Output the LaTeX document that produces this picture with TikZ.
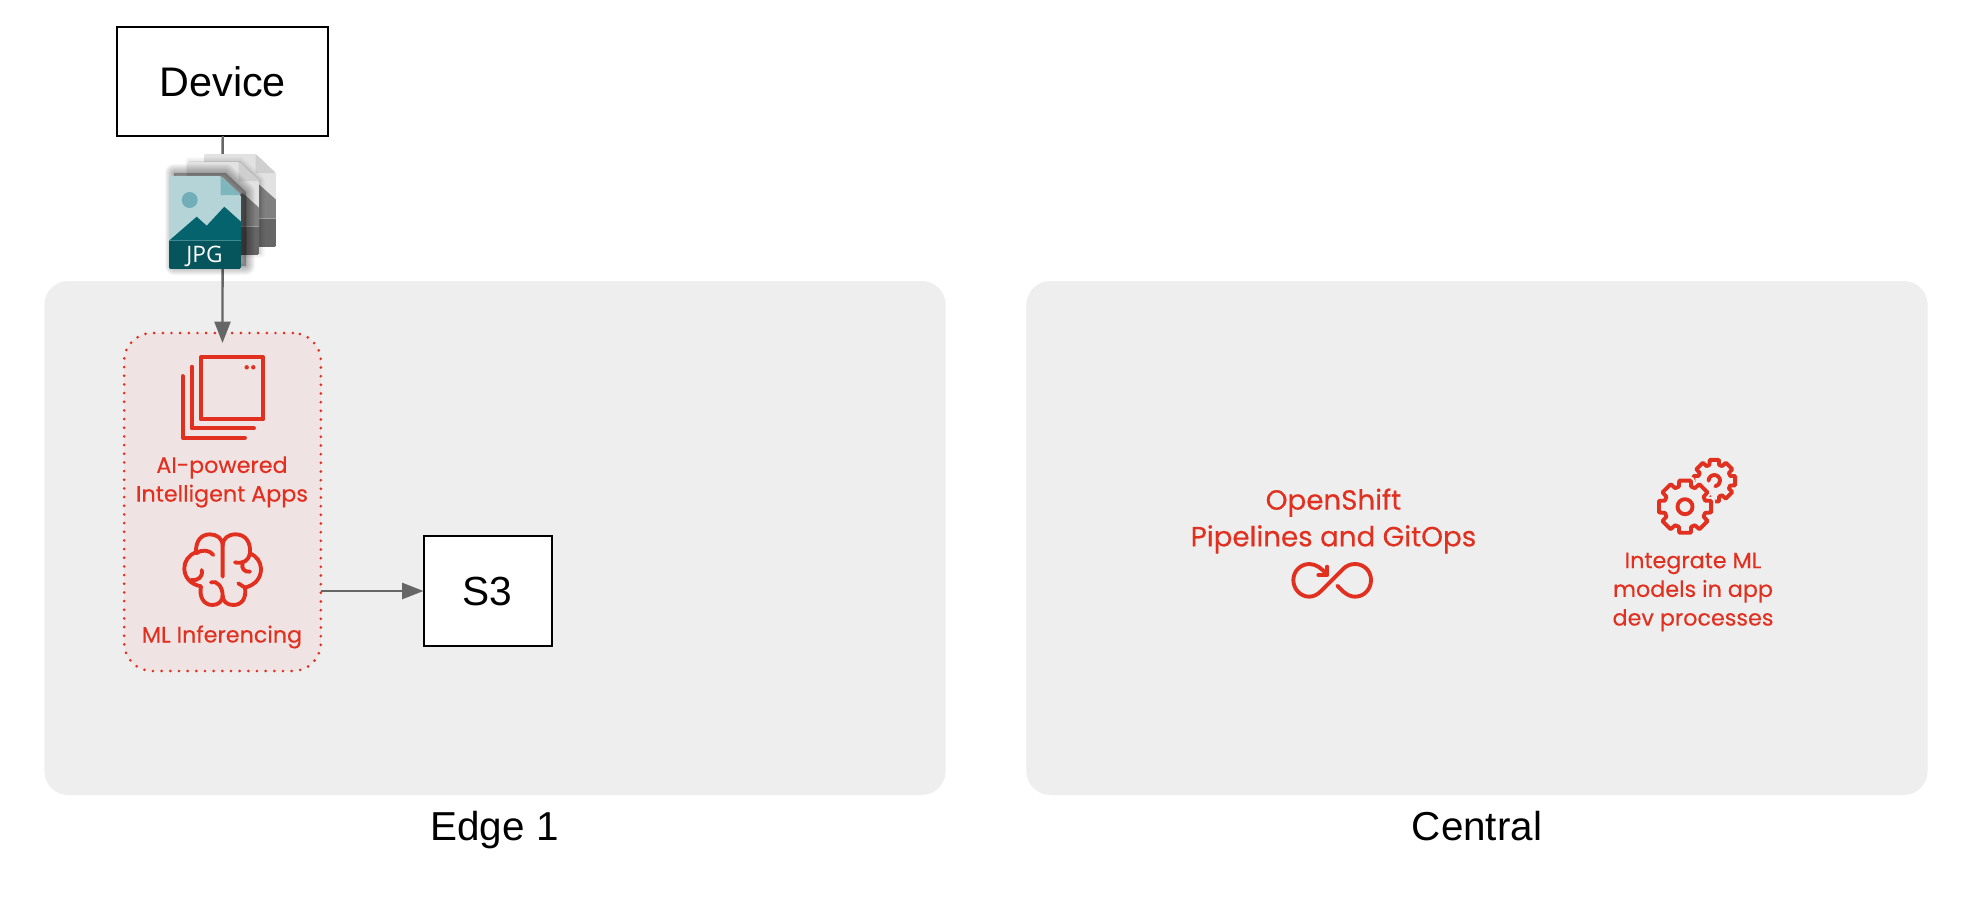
\documentclass[tikz,border=0pt]{standalone}
\usepackage{fontspec}
\setmainfont{Liberation Sans}
\newfontfamily\redfont[FakeBold=0.3]{Poppins}
\newfontfamily\jpgfont{Open Sans}
\usetikzlibrary{arrows.meta}
\definecolor{rhred}{HTML}{E1301F}
\definecolor{panelgray}{HTML}{EEEEEE}
\definecolor{mlpink}{HTML}{F0E3E3}
\definecolor{linegray}{HTML}{666666}
\definecolor{jpgpaper}{HTML}{B5D4D8}
\definecolor{jpgfold}{HTML}{7EB6BD}
\definecolor{jpgsun}{HTML}{72AEB8}
\definecolor{jpghill}{HTML}{05636D}
\definecolor{jpgband}{HTML}{06545C}
\definecolor{greypaper}{HTML}{E2E2E2}
\definecolor{greyfold}{HTML}{CFCFCF}
\definecolor{greyhill}{HTML}{808080}
\definecolor{greyband}{HTML}{666666}
\tikzset{
  x=.75pt,y=-.75pt,
  panelbox/.style={fill=panelgray,draw=none,rounded corners=18pt,minimum width=676pt,minimum height=385.5pt,inner sep=0pt,outer sep=0pt},
  whitebox/.style={draw=black,fill=white,line width=1.5pt,inner sep=0pt,outer sep=0pt,font=\fontsize{30.5}{36}\selectfont},
  mlbox/.style={fill=mlpink,draw=rhred,line width=2.2pt,dash pattern=on 0pt off 6.5pt,line cap=round,rounded corners=21pt,minimum width=147.5pt,minimum height=253.5pt,inner sep=0pt,outer sep=0pt},
  panelcap/.style={font=\fontsize{30.3}{36}\selectfont,inner sep=0pt},
  redsmall/.style={text=rhred,align=center,inner sep=0pt,font=\redfont\fontsize{16.7}{21.5}\selectfont},
  redbig/.style={text=rhred,align=center,inner sep=0pt,font=\redfont\fontsize{20.8}{27.5}\selectfont},
  conn/.style={draw=linegray,line width=1.8pt,-{Triangle[length=16pt,width=12pt,fill=linegray]}},
  icon/.style={draw=rhred,line width=2.9pt,line cap=round,line join=round},
}
\newcommand{\jpgsheet}[7]{%
  \begin{scope}[shift={(#1,#2)}]
    \clip[rounded corners=1pt] (169,176) -- (220.7,176) -- (241,195) -- (241,269) -- (169,269) -- cycle;
    \fill[#3] (169,176) rectangle (241,269);
    \fill[#4] (220.7,176) -- (220.7,195) -- (241,195) -- cycle;
    \fill[#5] (189.7,200) circle[radius=8];
    \fill[#6] (169,240.7) -- (196.7,216.7) -- (206.7,225.7) -- (224.3,206.7) -- (241,221.7) -- (241,240.7) -- cycle;
    \fill[#7] (169,240.7) rectangle (241,269);
  \end{scope}}
\newcommand{\sheetshadow}[4]{%
  \foreach \w in {2,4,...,#3}{
    \fill[black,opacity=#4,draw=black,line width=\w*.75pt,line join=round]
      (169+#1,176+#2) -- (220.7+#1,176+#2) -- (241+#1,195+#2) -- (241+#1,269+#2) -- (169+#1,269+#2) -- cycle;
  }}
\newcommand{\gearpath}[2]{(-17:#2) \foreach \a in {0,45,...,315}{ -- (\a-17:#2) -- (\a-12.5:#1) -- (\a+12.5:#1) -- (\a+17:#2) } -- cycle}
\begin{document}
\begin{tikzpicture}
\useasboundingbox (0,0) rectangle (1976,910);
\fill[white] (0,0) rectangle (1976,910);

% panels
\node[panelbox] (edge) at (495,538) {};
\node[panelbox] (central) at (1477,538) {};
\node[panelcap,anchor=north] (edgelabel) at (494.5,811) {Edge 1};
\node[panelcap,anchor=north] (centrallabel) at (1477,811) {Central};

% boxes
\node[mlbox] (ml) at (222.5,502) {};
\node[whitebox,font=\fontsize{31}{36}\selectfont,minimum width=158pt,minimum height=82pt] (device) at (222.7,81.5) {Device};
\node[whitebox,minimum width=96pt,minimum height=82.5pt] (s3) at (487.5,591) {S3};

% connectors
\draw[conn,shorten >=-7.5pt] (device.south) -- (ml.north);
\draw[conn] (ml.east|-s3) -- (s3.west);

% JPG icon
\jpgsheet{35}{-22}{greypaper}{greyfold}{greypaper}{greyhill}{greyband}
\sheetshadow{20}{-15}{8}{.02}
\jpgsheet{18}{-14}{greypaper}{greyfold}{greypaper}{greyhill}{greyband}
\sheetshadow{5}{-3}{18}{.035}
\jpgsheet{0}{0}{jpgpaper}{jpgfold}{jpgsun}{jpghill}{jpgband}
\node[text=white,font=\jpgfont\fontsize{17}{20}\selectfont,inner sep=0pt] (jpg) at (204.5,256) {JPG};

% apps icon
\draw[icon] (200.7,357.3) rectangle (263.3,419.3);
\draw[icon] (191.7,366.7) -- (191.7,428.3) -- (254,428.3);
\draw[icon] (182.7,376) -- (182.7,437.7) -- (245,437.7);
\fill[rhred] (246.7,367.3) circle[radius=2.2];
\fill[rhred] (253.3,367.3) circle[radius=2.2];
\node[redsmall] (apps) at (222,482) {AI-powered\\Intelligent Apps};

% brain icon
\begin{scope}[shift={(175,525)},x=.25pt,y=-.25pt]
  \draw[icon] (143,155) -- (143,62) .. controls (143,40) and (125,28) .. (105,28) .. controls (80,28) and (62,45) .. (63,82)
     .. controls (40,90) and (28,110) .. (28,130) .. controls (28,155) and (45,178) .. (78,184)
     .. controls (72,215) and (85,240) .. (113,240) .. controls (130,240) and (143,228) .. (143,212);
  \draw[icon] (108,172) .. controls (125,165) and (143,185) .. (143,212) .. controls (143,228) and (155,240) .. (175,240)
     .. controls (200,240) and (215,220) .. (210,188) .. controls (240,180) and (258,160) .. (258,132)
     .. controls (258,110) and (243,92) .. (225,85) .. controls (228,50) and (210,28) .. (182,28)
     .. controls (160,28) and (143,40) .. (143,62);
  \draw[icon] (63,85) .. controls (80,72) and (105,75) .. (115,90);
  \draw[icon] (80,135) .. controls (85,155) and (70,168) .. (48,165);
  \draw[icon] (190,175) -- (210,188);
  \draw[icon] (180,112) .. controls (205,118) and (222,105) .. (225,85);
  \draw[icon] (203,115) .. controls (198,130) and (208,142) .. (225,140);
\end{scope}
\node[redsmall] (inference) at (222,637) {ML Inferencing};

% OpenShift
\node[redbig] (pipelines) at (1333.5,521) {OpenShift\\Pipelines and GitOps};
\begin{scope}[shift={(1170,440)},x=.25pt,y=-.25pt]
  \draw[icon] (502,437) -- (520,455) .. controls (532,465) and (543,470) .. (555,470)
     .. controls (582,470) and (603,448) .. (603,420) .. controls (603,393) and (582,372) .. (555,372)
     .. controls (540,372) and (528,378) .. (518,388) -- (453,453) .. controls (443,464) and (430,470) .. (418,470)
     .. controls (392,470) and (370,448) .. (370,420) .. controls (370,393) and (392,372) .. (418,372)
     .. controls (438,372) and (455,385) .. (470,403);
  \draw[icon] (445,405) -- (472,405) -- (472,380);
\end{scope}

% gears
\begin{scope}[shift={(1714.3,480.7)}]
  \draw[icon] \gearpath{21.3}{16.5};
  \draw[icon] (180:5.7) arc[start angle=180,end angle=440,radius=5.7];
\end{scope}
\begin{scope}[shift={(1685,506.7)}]
  \draw[panelgray,fill=panelgray,line width=6pt,line join=round] \gearpath{26.7}{21};
  \draw[icon] \gearpath{26.7}{21};
  \draw[icon] (0,0) circle[radius=7.5];
\end{scope}
\node[redsmall] (integrate) at (1693,592) {Integrate ML\\models in app\\dev processes};
\end{tikzpicture}
\end{document}
